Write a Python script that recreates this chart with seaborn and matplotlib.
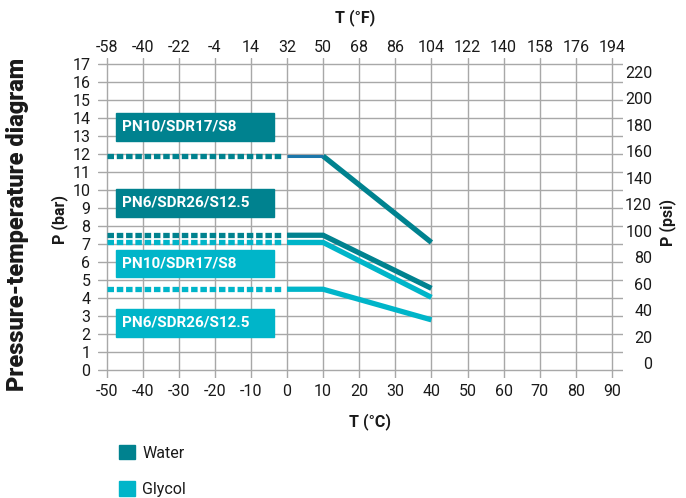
import matplotlib

matplotlib.use("Agg", force=True)

import matplotlib.pyplot as plt
import seaborn as sns
import pandas as pd
from matplotlib.patches import Patch, Rectangle

# data (temperature in °C, pressure in bar)
temps_c = [0, 10, 40]
ext_temps = [-50, -1]  # dotted extension below 0 °C
water_pn10 = [11.9, 11.9, 7.1]
water_pn6 = [7.5, 7.5, 4.55]
glycol_pn10 = [7.1, 7.1, 4.05]
glycol_pn6 = [4.5, 4.5, 2.8]

c_ticks = [-50, -40, -30, -20, -10, 0, 10, 20, 30, 40, 50, 60, 70, 80, 90]
f_labels = ["-58", "-40", "-22", "-4", "14", "32", "50", "68", "86", "104",
            "122", "140", "158", "176", "194"]
bar_ticks = list(range(0, 18))
psi_ticks = list(range(0, 221, 20))

WATER = "#00828f"
GLYCOL = "#00b5c9"
THIN = "#1b76aa"

sns.set_theme(style="whitegrid")
plt.rcParams["font.family"] = ["Roboto", "DejaVu Sans"]
plt.rcParams["text.color"] = "#1a1a1a"

series = [
    ("Glycol PN6", glycol_pn6, GLYCOL),
    ("Glycol PN10", glycol_pn10, GLYCOL),
    ("Water PN6", water_pn6, WATER),
    ("Water PN10", water_pn10, WATER),
]

# long table: dotted extension + solid part for every series
rows = []
for name, vals, _ in series:
    for t in ext_temps:
        rows.append({"T": t, "P": vals[0], "series": name, "part": "ext"})
    # water PN10 has a thin segment between 0 and 10 °C, thick from 10 °C on
    start = 1 if name == "Water PN10" else 0
    for t, p in zip(temps_c[start:], vals[start:]):
        rows.append({"T": t, "P": p, "series": name, "part": "main"})
df = pd.DataFrame(rows)

fig = plt.figure(figsize=(6.86, 4.98), dpi=100)
ax = fig.add_axes([0.1429, 0.2410, 0.7653, 0.6419])

sns.lineplot(data=df, x="T", y="P", hue="series", style="part",
             palette={n: c for n, _, c in series},
             dashes={"ext": (1.23, 0.53), "main": ""},
             estimator=None, sort=False, lw=3.8, legend=False, ax=ax,
             dash_capstyle="butt", solid_capstyle="butt", solid_joinstyle="miter")

# thin segment of water PN10
sns.lineplot(x=temps_c[:2], y=water_pn10[:2], color=THIN, lw=2.2, ax=ax,
             solid_capstyle="butt")

ax.set_xlim(-52.35, 93.07)
ax.set_ylim(-0.43, 17.33)
ax.set_xticks(c_ticks)
ax.set_xticklabels([str(t) for t in c_ticks])
ax.set_yticks(bar_ticks)
ax.set_xlabel("")
ax.set_ylabel("")
ax.grid(True, color="#a8a8a8", lw=1.0)
ax.tick_params(axis="x", length=0, pad=4.5, labelsize=11.5, colors="#1a1a1a")
ax.tick_params(axis="y", length=0, pad=5.5, labelsize=11.5, colors="#1a1a1a")

# top °F axis
ax_t = ax.twiny()
ax_t.set_xlim(ax.get_xlim())
ax_t.set_xticks(c_ticks)
ax_t.set_xticklabels(f_labels)
ax_t.grid(False)
ax_t.tick_params(axis="x", length=0, pad=2.5, labelsize=11.5, colors="#1a1a1a")

# right psi axis (independent label scale)
ax_r = ax.twinx()
ax_r.set_ylim(-11.14, 230.0)
ax_r.set_yticks(psi_ticks)
ax_r.set_yticklabels([str(p) for p in psi_ticks])
ax_r.grid(False)
ax_r.tick_params(axis="y", length=0, pad=21, labelsize=11.5, colors="#1a1a1a")
for lab in ax_r.get_yticklabels():
    lab.set_horizontalalignment("right")

for a in (ax, ax_t, ax_r):
    for s in a.spines.values():
        s.set_visible(False)

# label boxes
boxes = [
    ("PN10/SDR17/S8", 12.74, 14.29, WATER),
    ("PN6/SDR26/S12.5", 8.52, 10.07, WATER),
    ("PN10/SDR17/S8", 5.18, 6.68, GLYCOL),
    ("PN6/SDR26/S12.5", 1.85, 3.41, GLYCOL),
]
for txt, y0, y1, col in boxes:
    ax.add_patch(Rectangle((-47.4, y0), 43.8, y1 - y0, color=col, zorder=5))
    ax.text(-45.8, (y0 + y1) / 2, txt, color="white", fontsize=11,
            fontweight="bold", ha="left", va="center", zorder=6)

# axis titles
fig.text(355 / 686, 1 - 18 / 498, "T (°F)", ha="center", va="center",
         fontsize=11.5, fontweight="bold")
fig.text(370 / 686, 1 - 422 / 498, "T (°C)", ha="center", va="center",
         fontsize=11.5, fontweight="bold")
fig.text(60 / 686, 1 - 220 / 498, "P (bar)", ha="center", va="center",
         rotation=90, fontsize=11.5, fontweight="bold")
fig.text(668 / 686, 1 - 222 / 498, "P (psi)", ha="center", va="center",
         rotation=90, fontsize=11.5, fontweight="bold")
fig.text(18 / 686, 1 - 224 / 498, "Pressure-temperature diagram", ha="center",
         va="center", rotation=90, fontsize=17, fontweight="black")

# legend
handles = [Patch(color=WATER, label="Water"), Patch(color=GLYCOL, label="Glycol")]
fig.legend(handles=handles, loc="upper left", bbox_to_anchor=(119 / 686, 1 - 445 / 498),
           frameon=False, borderpad=0, borderaxespad=0, fontsize=11.5,
           handlelength=1.0, handleheight=1.0, handletextpad=0.45, labelspacing=1.3)

fig.savefig("out.png", dpi=100)
